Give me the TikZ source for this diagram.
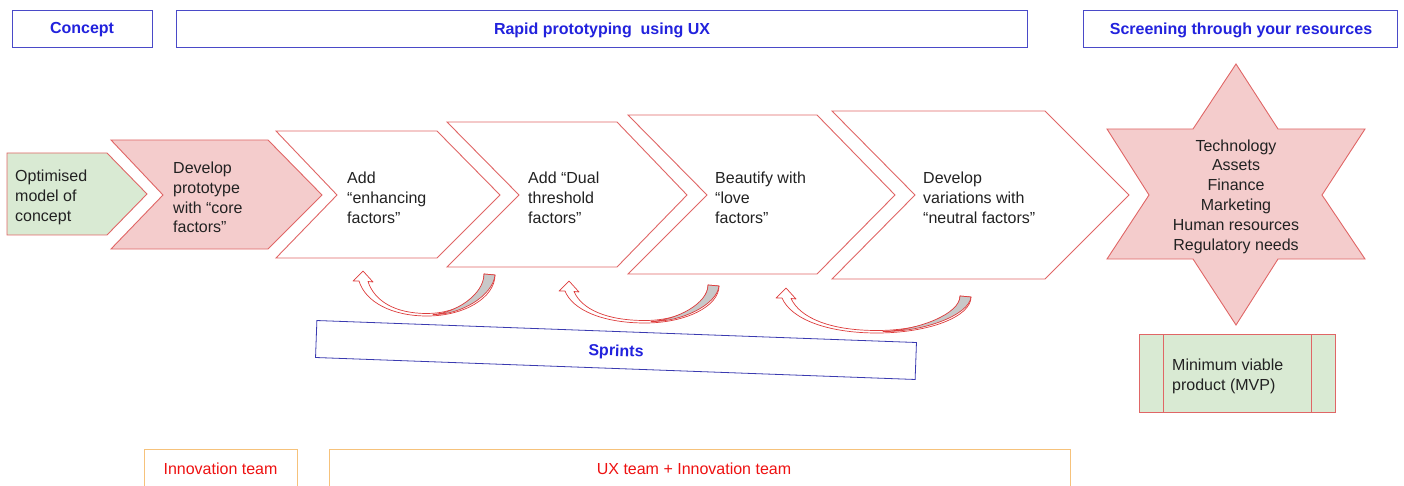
\documentclass[tikz,border=0pt]{standalone}
\usepackage{fontspec}
\setmainfont{Liberation Sans}
\definecolor{hdrblue}{HTML}{4A4AC8}
\definecolor{txtblue}{HTML}{2222DD}
\definecolor{sprblue}{HTML}{3A3AB0}
\definecolor{chevred}{HTML}{E06666}
\definecolor{arrred}{HTML}{DD3C3C}
\definecolor{pinkfill}{HTML}{F4CCCC}
\definecolor{greenfill}{HTML}{D9EAD3}
\definecolor{orangeline}{HTML}{F6C27B}
\definecolor{teamred}{HTML}{EE1111}
\definecolor{bodytxt}{HTML}{222222}
\definecolor{grayfill}{HTML}{C8C8C8}
\newcommand\myfs{\fontsize{16}{19.8}\selectfont}
\newcommand\sprintarrow[6]{%
  % #1,#2 head tip; #3,#4 bottom; #5,#6 tail outer corner
  \draw[arrst, fill=white]
    ({#1-4},{#2+10}) .. controls ({#1-4+0.1*(#3-#1)},{#2+10+0.6*(#4-#2-10)}) and ({#3-0.55*(#3-#1)},{#4}) .. (#3,#4)
    .. controls ({#3+0.55*(#5-#3)},{#4}) and ({#5},{#6+0.55*(#4-#6)}) .. (#5,#6)
    -- ({#5-11},{#6-1})
    .. controls ({#5-11},{#6-1+0.55*(#4-#6)}) and ({#3+0.55*(#5-11-#3)},{#4-2.5}) .. (#3,{#4-2.5})
    .. controls ({#3-0.55*(#3-#1-5)},{#4-2.5}) and ({#1+5+0.1*(#3-#1)},{#2+10+0.6*(#4-#2-12)}) .. ({#1+5},{#2+10.5})
    -- ({#1+10},{#2+11}) -- (#1,#2) -- ({#1-10},{#2+10}) -- cycle;
  \draw[arrst, fill=grayfill]
    ({#5-11},{#6-1}) -- (#5,#6)
    .. controls ({#5-2},{#6+0.5*(#4-#6)}) and ({#3+0.5*(#5-#3)},{#4-1}) .. ({#3+6},{#4-1.5})
    .. controls ({#3+0.5*(#5-11-#3)},{#4-3}) and ({#5-11},{#6-1+0.5*(#4-#6)}) .. ({#5-11},{#6-1}) -- cycle;
}
\begin{document}
\begin{tikzpicture}[x=1pt,y=-1pt,
  hdr/.style={draw=hdrblue, line width=0.8pt, fill=white, inner sep=0pt,
    font=\myfs\bfseries, text=txtblue, minimum height=37pt},
  chev/.style={draw=chevred, line width=0.9pt, line join=miter},
  txt/.style={anchor=west, align=left, inner sep=0pt, font=\myfs, text=bodytxt},
  ctxt/.style={align=center, inner sep=0pt, font=\myfs, text=bodytxt},
  arrst/.style={draw=arrred, line width=0.7pt, line join=round},
  teambox/.style={draw=orangeline, line width=0.8pt, fill=white, inner sep=0pt, minimum height=46pt},
  teamtxt/.style={inner sep=0pt, font=\myfs, text=teamred},
  sprint/.style={draw=sprblue, line width=0.8pt, fill=white, inner sep=0pt,
    font=\myfs\bfseries, text=txtblue, minimum width=600pt, minimum height=37pt}
]
\useasboundingbox (0,0) rectangle (1404,486);

% header boxes
\node[hdr, minimum width=140pt] (hconcept) at (82,28.5) {};
\node[hdr, minimum width=851pt] (hrapid) at (601.5,28.5) {};
\node[hdr, minimum width=314pt] (hscreen) at (1240,28.5) {};
\node[inner sep=0pt, font=\myfs\bfseries, text=txtblue] (lconcept) at (82,30) {Concept};
\node[inner sep=0pt, font=\myfs\bfseries, text=txtblue] (lrapid) at (602,30) {Rapid prototyping\ \ using UX};
\node[inner sep=0pt, font=\myfs\bfseries, text=txtblue] (lscreen) at (1241,30) {Screening through your resources};

% chevrons
\draw[chev, fill=greenfill] (7,153) -- (107,153) -- (147,194) -- (107,235) -- (7,235) -- cycle;
\node[txt] (t1) at (15,197.5) {Optimised\\model of\\concept};

\draw[chev, fill=pinkfill] (111,140) -- (268,140) -- (322,195) -- (268,249) -- (111,249) -- (163,195) -- cycle;
\node[txt] (t2) at (173,197.5) {Develop\\prototype\\with “core\\factors”};

\draw[chev, fill=white] (276,131) -- (437,131) -- (500,195) -- (437,258) -- (276,258) -- (337,195) -- cycle;
\node[txt] (t3) at (347,197.5) {Add\\“enhancing\\factors”};

\draw[chev, fill=white] (447,122) -- (617,122) -- (687,195) -- (617,267) -- (447,267) -- (519,195) -- cycle;
\node[txt] (t4) at (528,197.5) {Add “Dual\\threshold\\factors”};

\draw[chev, fill=white] (628,115) -- (817,115) -- (895,195) -- (817,274) -- (628,274) -- (707,195) -- cycle;
\node[txt] (t5) at (715,197.5) {Beautify with\\“love\\factors”};

\draw[chev, fill=white] (832,111) -- (1045,111) -- (1129,195) -- (1045,279) -- (832,279) -- (915,195) -- cycle;
\node[txt] (t6) at (923,197.5) {Develop\\variations with\\“neutral factors”};

% star
\draw[chev, fill=pinkfill] (1236,64) -- (1278,129) -- (1365,129) -- (1322,195) -- (1365,259) -- (1278,259)
  -- (1236,325) -- (1193,259) -- (1107,259) -- (1149,195) -- (1107,129) -- (1193,129) -- cycle;
\node[ctxt] (tstar) at (1236,196.5) {Technology\\Assets\\Finance\\Marketing\\Human resources\\Regulatory needs};

% MVP
\node[chev, fill=greenfill, minimum width=196pt, minimum height=78pt, inner sep=0pt] (mvp) at (1237,373) {};
\draw[chev] (1163,334) -- (1163,412);
\draw[chev] (1311,334) -- (1311,412);
\node[txt] (tmvp) at (1172,376) {Minimum viable\\product (MVP)};

% sprint arrows
\sprintarrow{363}{271}{427}{316}{495}{275}
\sprintarrow{569}{281}{645}{323}{719}{286}
\sprintarrow{786}{288}{877}{333}{971}{297}

% sprints box
\node[sprint, rotate=-2.1] (sprints) at (616,350) {};
\node[inner sep=0pt, font=\myfs\bfseries, text=txtblue, rotate=-2.1] (lsprints) at (616,352) {Sprints};

% team boxes
\node[teambox, minimum width=153pt] (innobox) at (220.5,472) {};
\node[teamtxt] (innotxt) at (220.5,469) {Innovation team};
\node[teambox, minimum width=741pt] (uxbox) at (700,472) {};
\node[teamtxt] (uxtxt) at (694,469) {UX team + Innovation team};
\end{tikzpicture}
\end{document}
